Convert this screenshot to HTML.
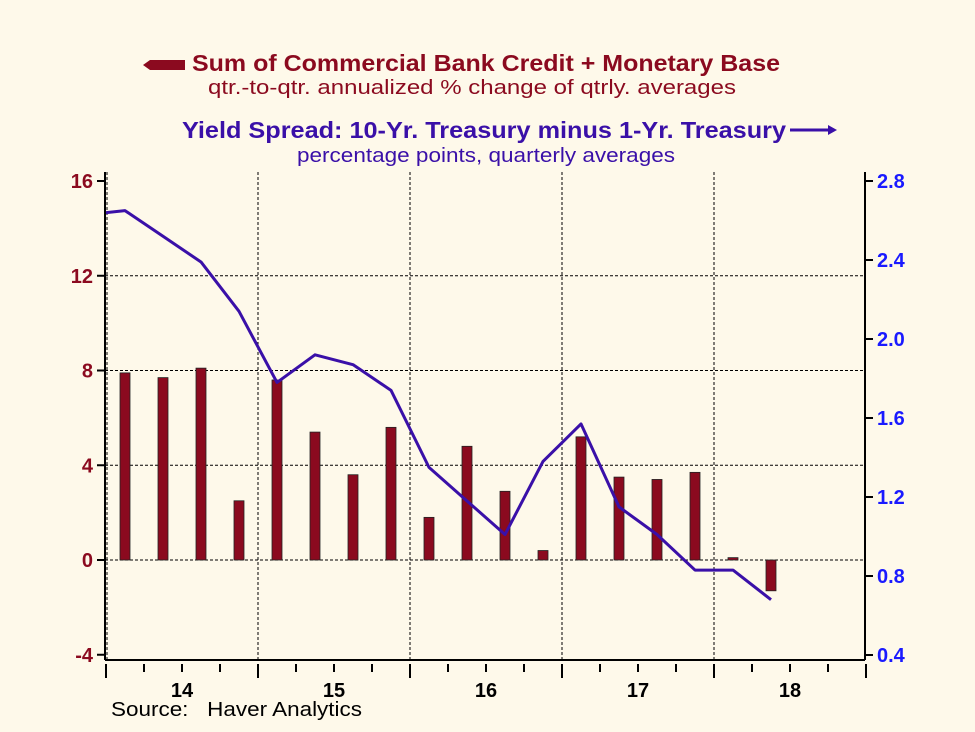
<!DOCTYPE html>
<html><head><meta charset="utf-8"><style>
html,body{margin:0;padding:0;background:#fef9ea;}
svg{display:block;font-family:"Liberation Sans",Arial,sans-serif;}
</style></head><body>
<svg id="chart" width="975" height="732" viewBox="0 0 975 732">
<rect width="975" height="732" fill="#fef9ea"/>
<g>
<polygon points="143,65 150,60 185,60 185,70 150,70" fill="#8b0a1f"/>
<text x="192" y="71" font-size="23" font-weight="bold" fill="#8b0a1f" textLength="588" lengthAdjust="spacingAndGlyphs">Sum of Commercial Bank Credit + Monetary Base</text>
<text x="208" y="94" font-size="20" fill="#8b0a1f" textLength="528" lengthAdjust="spacingAndGlyphs">qtr.-to-qtr. annualized % change of qtrly. averages</text>
</g>
<g>
<text x="182" y="138" font-size="23" font-weight="bold" fill="#3a10a8" textLength="604" lengthAdjust="spacingAndGlyphs">Yield Spread: 10-Yr. Treasury minus 1-Yr. Treasury</text>
<line x1="790" y1="130" x2="830" y2="130" stroke="#3a10a8" stroke-width="3"/>
<polygon points="828,125 837,130 828,135" fill="#3a10a8"/>
<text x="297" y="162" font-size="20" fill="#3a10a8" textLength="378" lengthAdjust="spacingAndGlyphs">percentage points, quarterly averages</text>
</g>
<g id="grid"></g>
<g id="bars"></g>
<g id="line"></g>
<g id="axes"></g>
<text x="111" y="716" font-size="20" fill="#000" xml:space="preserve" style="white-space:pre" textLength="251" lengthAdjust="spacingAndGlyphs">Source:   Haver Analytics</text>
</svg>
<script>
const credit = [7.9,7.7,8.1,2.5,7.6,5.4,3.6,5.6,1.8,4.8,2.9,0.4,5.2,3.5,3.4,3.7,0.1,-1.3];
const spread = [2.63,2.65,2.52,2.39,2.14,1.78,1.92,1.87,1.74,1.35,1.18,1.01,1.38,1.57,1.15,1.01,0.83,0.83,0.68];
const leftTicks = [16,12,8,4,0,-4];
const rightTicks = [2.8,2.4,2.0,1.6,1.2,0.8,0.4];
const yearLabels = ["14","15","16","17","18"];
const NS="http://www.w3.org/2000/svg";
const X0=106, QW=38, L=105, R=865, TOP=172, BOT=660;
const qx = i => X0 + QW*(i+0.5);
const yL = v => 560 - v*(94.75/4);
const yR = v => 181 + (2.8-v)*197.5;
function mk(tag, attrs, parent){const e=document.createElementNS(NS,tag);for(const k in attrs)e.setAttribute(k,attrs[k]);parent.appendChild(e);return e;}
const grid=document.getElementById('grid'), bars=document.getElementById('bars'), lineG=document.getElementById('line'), axes=document.getElementById('axes');
leftTicks.forEach(v=>{ if(v===16||v===-4) return;
  const g=mk('line',{x1:L,x2:R,y1:yL(v),y2:yL(v),stroke:'#000','stroke-width':1,'stroke-dasharray':'3,2'},grid);
  
  
});
for(let y=1;y<5;y++){const x=X0+y*4*QW;
  const g=mk('line',{x1:x,x2:x,y1:TOP,y2:BOT,stroke:'#000','stroke-width':1,'stroke-dasharray':'3,2'},grid);
  
  
}
const vl=mk('line',{x1:X0+1,x2:X0+1,y1:TOP,y2:BOT,stroke:'#000','stroke-width':1,'stroke-dasharray':'3,2'},grid);


credit.forEach((v,i)=>{const y0=yL(0),y1=yL(v);
  const b=mk('rect',{x:qx(i)-5,y:Math.min(y0,y1),width:10,height:Math.max(1,Math.abs(y1-y0)),fill:'#8b0a1f',stroke:'#222','stroke-width':0.8},bars);
  
  
});
const pts=spread.map((v,i)=>[qx(i-1),yR(v)]);
const cp=mk('clipPath',{id:'clip'},lineG); mk('rect',{x:L,y:TOP,width:R-L,height:BOT-TOP},cp);
const pl=mk('polyline',{points:pts.map(p=>p.join(',')).join(' '),fill:'none',stroke:'#3a10a8','stroke-width':3,'clip-path':'url(#clip)','stroke-linejoin':'round'},lineG);


[[L,TOP,L,BOT],[R,TOP,R,BOT],[L,BOT,R,BOT]].forEach(a=>{
  const l=mk('line',{x1:a[0],y1:a[1],x2:a[2],y2:a[3],stroke:'#000','stroke-width':2},axes);
  
  
});
leftTicks.forEach(v=>{const y=yL(v);
  const t=mk('line',{x1:L-8,x2:L,y1:y,y2:y,stroke:'#000','stroke-width':2},axes);
  
  
  const tx=mk('text',{x:L-12,y:y+7,'text-anchor':'end','font-size':20,'font-weight':'bold',fill:'#8b0a1f'},axes);
  tx.textContent=String(v);
  
  
});
rightTicks.forEach(v=>{const y=yR(v);
  const t=mk('line',{x1:R,x2:R+8,y1:y,y2:y,stroke:'#000','stroke-width':2},axes);
  
  
  const tx=mk('text',{x:R+12,y:y+7,'font-size':20,'font-weight':'bold',fill:'#1a1aff'},axes);
  tx.textContent=v.toFixed(1);
  
  
});
for(let q=0;q<=20;q++){const x=X0+q*QW, major=q%4===0;
  const t=mk('line',{x1:x,x2:x,y1:664,y2:major?678:672,stroke:'#000','stroke-width':2},axes);
  
  
}
yearLabels.forEach((s,i)=>{
  const tx=mk('text',{x:X0+QW*(4*i+2),y:697,'text-anchor':'middle','font-size':20,'font-weight':'bold',fill:'#000'},axes);
  tx.textContent=s;
  
  
});
</script>
</body></html>
